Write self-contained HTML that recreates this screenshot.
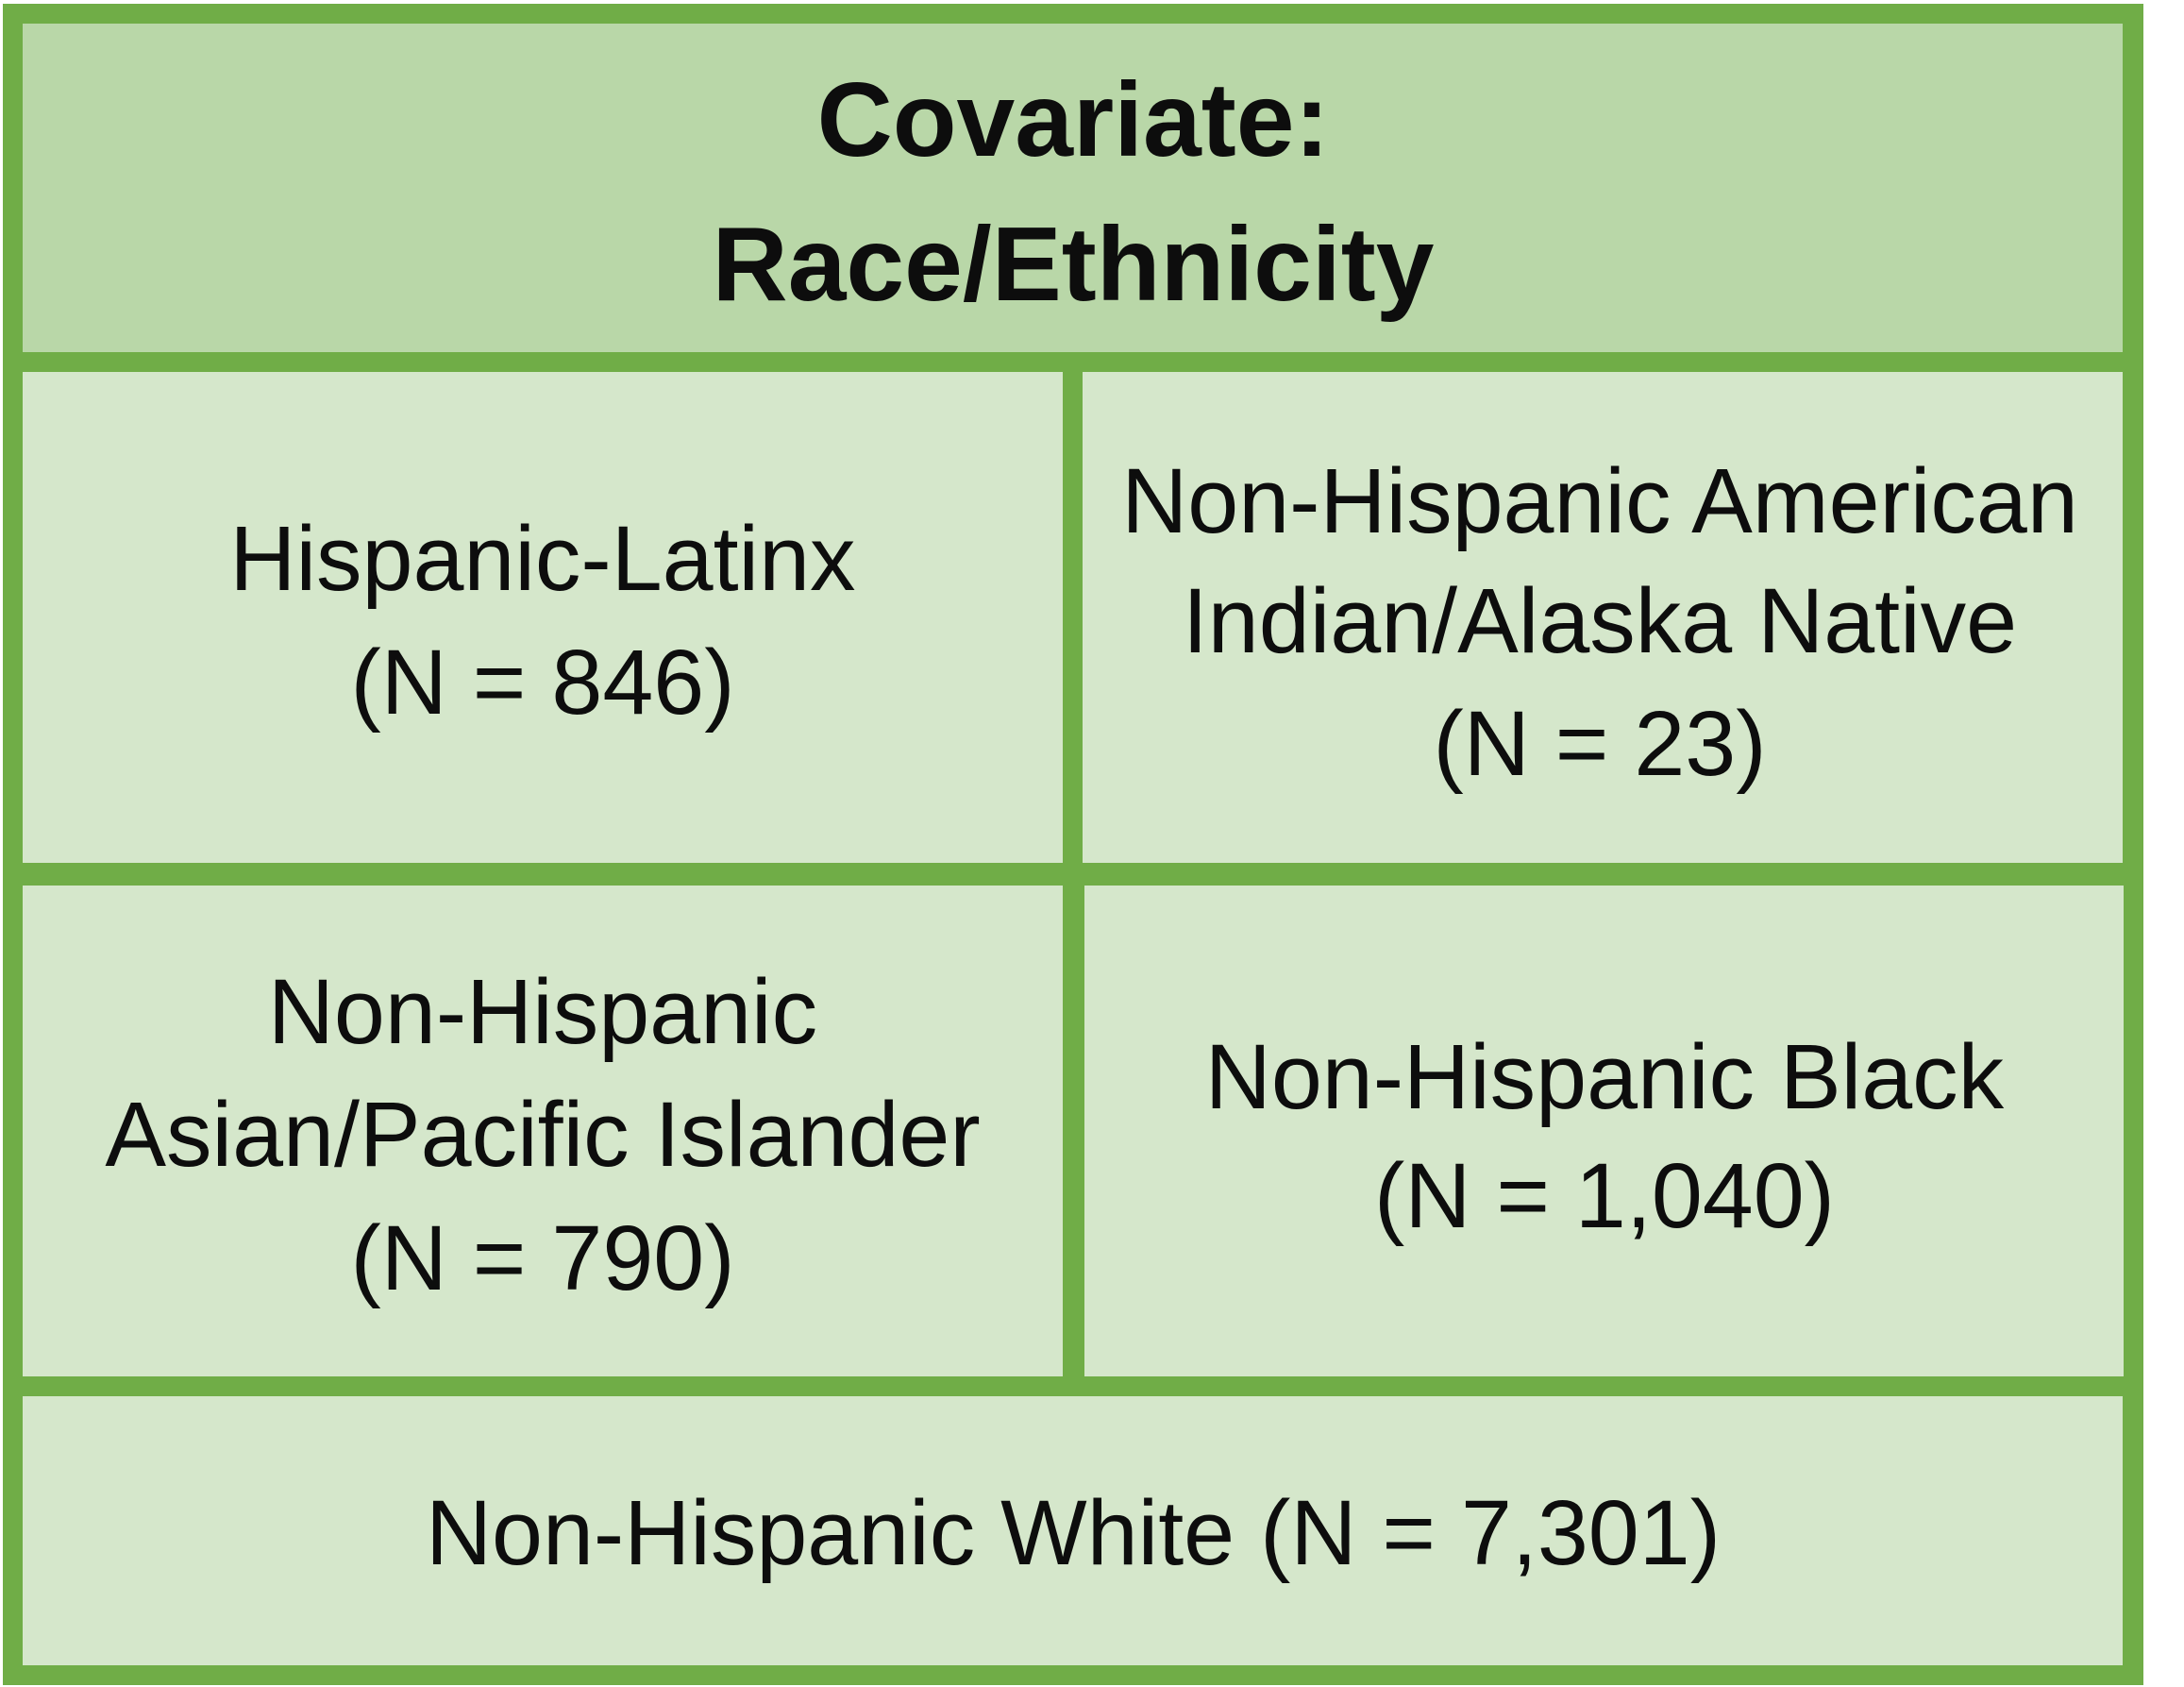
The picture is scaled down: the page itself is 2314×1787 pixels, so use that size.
<!DOCTYPE html>
<html><head><meta charset="utf-8"><style>
html,body{margin:0;padding:0;background:#fff;}
svg{display:block;}
text{font-family:"Liberation Sans",sans-serif;fill:#0d0d0d;}
</style></head><body>
<svg width="2314" height="1787" viewBox="0 0 2314 1787">
<rect x="3" y="4" width="2268" height="1781" fill="#70ad47"/>
<rect x="24" y="25" width="2225" height="348" fill="#b9d7a8"/>
<rect x="24" y="394" width="1102" height="520" fill="#d5e7cb"/>
<rect x="1147" y="394" width="1102" height="520" fill="#d5e7cb"/>
<rect x="24" y="938" width="1102" height="520" fill="#d5e7cb"/>
<rect x="1149" y="938" width="1101" height="520" fill="#d5e7cb"/>
<rect x="24" y="1479" width="2225" height="285" fill="#d5e7cb"/>
<g text-anchor="middle" font-weight="bold" font-size="111">
<text x="1137" y="165">Covariate:</text>
<text x="1137" y="318">Race/Ethnicity</text>
</g>
<g text-anchor="middle" font-size="97">
<text x="575" y="625">Hispanic-Latinx</text>
<text x="575" y="756">(N = 846)</text>
<text x="1695" y="564">Non-Hispanic American</text>
<text x="1695" y="691">Indian/Alaska Native</text>
<text x="1695" y="821">(N = 23)</text>
<text x="575" y="1105">Non-Hispanic</text>
<text x="575" y="1235">Asian/Pacific Islander</text>
<text x="575" y="1366">(N = 790)</text>
<text x="1700" y="1174">Non-Hispanic Black</text>
<text x="1700" y="1300">(N = 1,040)</text>
<text x="1137" y="1657">Non-Hispanic White (N = 7,301)</text>
</g>
</svg>
</body></html>
